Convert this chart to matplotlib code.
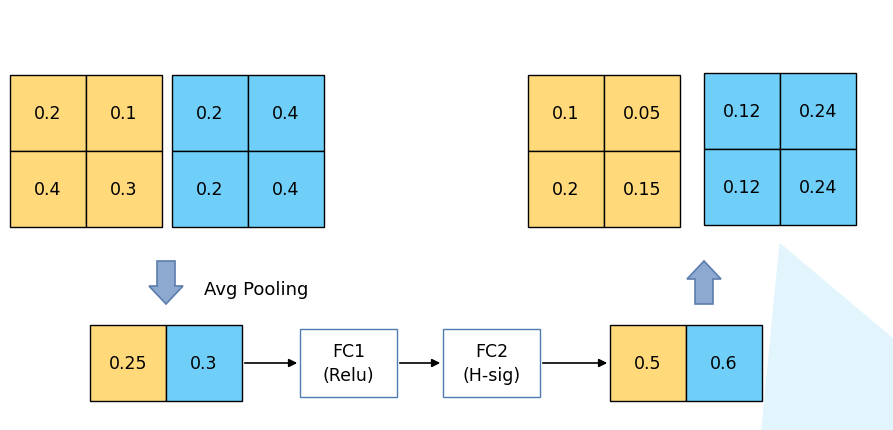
import matplotlib
matplotlib.use("Agg")
import matplotlib.pyplot as plt
from matplotlib.patches import Rectangle, Polygon, FancyArrow

W, H = 893, 431
YEL = "#FFD97A"
BLU = "#6FCFF9"

# values
in_yellow = [["0.2", "0.1"], ["0.4", "0.3"]]
in_blue = [["0.2", "0.4"], ["0.2", "0.4"]]
out_yellow = [["0.1", "0.05"], ["0.2", "0.15"]]
out_blue = [["0.12", "0.24"], ["0.12", "0.24"]]
pooled = ["0.25", "0.3"]
scaled = ["0.5", "0.6"]
fc_labels = ["FC1\n(Relu)", "FC2\n(H-sig)"]

fig = plt.figure(figsize=(W / 100, H / 100), dpi=100)
ax = fig.add_axes([0, 0, 1, 1])
ax.set_xlim(0, W)
ax.set_ylim(H, 0)
ax.axis("off")

ax.add_patch(Polygon([(780, 245), (893, 340), (893, 431), (762, 431)],
                     closed=True, color="#E2F5FD", zorder=0))

def cell(x, y, w, h, color, txt):
    ax.add_patch(Rectangle((x, y), w, h, facecolor=color, edgecolor="black", lw=1))
    ax.text(x + w / 2, y + h / 2, txt, ha="center", va="center", fontsize=12.5)

def grid(x0, y0, vals, color, s=76):
    for r in range(2):
        for c in range(2):
            cell(x0 + c * s, y0 + r * s, s, s, color, vals[r][c])

grid(10, 76, in_yellow, YEL)
grid(172, 76, in_blue, BLU)
grid(528, 76, out_yellow, YEL)
grid(704, 74, out_blue, BLU)

cell(90, 326, 76, 76, YEL, pooled[0])
cell(166, 326, 76, 76, BLU, pooled[1])
cell(610, 326, 76, 76, YEL, scaled[0])
cell(686, 326, 76, 76, BLU, scaled[1])

for x, lab in zip([300, 443], fc_labels):
    ax.add_patch(Rectangle((x, 330), 97, 68, facecolor="white", edgecolor="#4F7DB0", lw=1))
    ax.text(x + 48.5, 364, lab, ha="center", va="center", fontsize=12.5, linespacing=1.4)

for x1, x2 in [(242, 300), (397, 443), (540, 610)]:
    ax.annotate("", xy=(x2, 364), xytext=(x1, 364),
                arrowprops=dict(arrowstyle="-|>", color="black", lw=1.2, mutation_scale=12))

ax.add_patch(Polygon([(157, 262), (175, 262), (175, 287), (183, 287), (166, 305),
                      (149, 287), (157, 287)], closed=True,
                     facecolor="#8EA9D0", edgecolor="#5B7DAE", lw=1.2))
ax.add_patch(Polygon([(695, 305), (713, 305), (713, 280), (721, 280), (704, 262),
                      (687, 280), (695, 280)], closed=True,
                     facecolor="#8EA9D0", edgecolor="#5B7DAE", lw=1.2))
ax.text(204, 290, "Avg Pooling", ha="left", va="center", fontsize=13)

fig.savefig("out.png", dpi=100)
